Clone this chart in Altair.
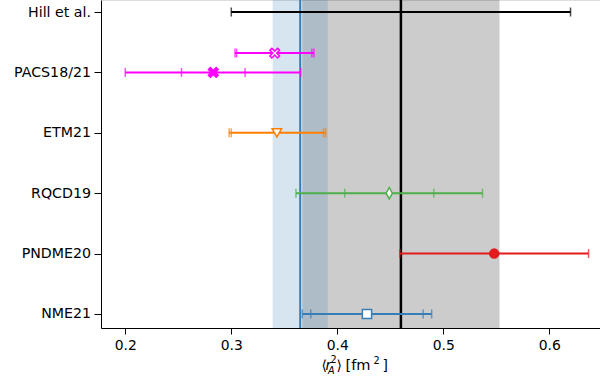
import altair as alt
import pandas as pd

# ---- data ----
row_labels = ["NME21", "PNDME20", "RQCD19", "ETM21", "PACS18/21", "Hill et al."]
row_pos = [0, 1, 2, 3, 4, 5]

names = ["NME21", "PNDME20", "RQCD19", "ETM21", "PACS21", "PACS18", "Hill et al."]
ypos = [0, 1, 2, 3, 4, 4.32, 5]
center = [0.428, 0.548, 0.449, 0.343, 0.283, 0.341, 0.46]
stat_lo = [0.375, None, 0.407, 0.300, 0.253, 0.305, None]
stat_hi = [0.481, None, 0.491, 0.387, 0.313, 0.376, None]
tot_lo = [0.367, 0.459, 0.361, 0.298, 0.200, 0.3035, 0.300]
tot_hi = [0.489, 0.637, 0.537, 0.389, 0.3655, 0.378, 0.620]
colors = ["#377eb8", "#e41a1c", "#4daf4a", "#ff7f00", "#ff00ff", "#ff00ff", "#000000"]

# bands: (lo, center, hi)
blue_band = [0.339, 0.365, 0.391]
gray_band = [0.367, 0.46, 0.553]

XSHAPE = ("M-1,-0.6L-0.6,-1L0,-0.4L0.6,-1L1,-0.6L0.4,0L1,0.6L0.6,1L0,0.4L-0.6,1L-1,0.6L-0.4,0Z")
DIAMOND = "M0,-1L0.55,0L0,1L-0.55,0Z"

marker_shape = ["square", "circle", DIAMOND, "triangle-down", XSHAPE, XSHAPE, None]
marker_fill = ["white", "#e41a1c", "white", "white", "#ff00ff", "white", None]
marker_size = [85, 80, 130, 90, 95, 95, None]

df = pd.DataFrame({
    "name": names, "y": ypos, "c": center, "slo": stat_lo, "shi": stat_hi,
    "tlo": tot_lo, "thi": tot_hi, "color": colors,
})
mdf = pd.DataFrame({
    "name": names, "y": ypos, "c": center, "color": colors,
    "shape": marker_shape, "fill": marker_fill, "size": marker_size,
}).dropna()

bands = pd.DataFrame({
    "lo": [gray_band[0], blue_band[0]], "hi": [gray_band[2], blue_band[2]],
    "mid": [gray_band[1], blue_band[1]], "color": ["#000000", "#377eb8"],
})

W, H = 499, 328
FONT = "DejaVu Sans"
FS = 13.9

xs = alt.Scale(domain=[0.1771, 0.6478], nice=False, zero=False)
ys = alt.Scale(domain=[-0.232, 5.199], nice=False, zero=False)

label_expr = "{" + ",".join(f"'{p}':'{l}'" for p, l in zip(row_pos, row_labels)) + "}[datum.value]"

xax = alt.Axis(values=[0.2, 0.3, 0.4, 0.5, 0.6], format=".1f", title=None, grid=False,
               tickSize=6, labelPadding=4, labelFontSize=FS, labelFont=FONT,
               labelColor="black", domainColor="black", tickColor="black",
               domainWidth=1, tickWidth=1)
yax = alt.Axis(values=row_pos, labelExpr=label_expr, title=None, grid=False,
               tickSize=7, labelPadding=3.5, labelFontSize=14.2, labelFont=FONT,
               labelColor="black", domainColor="black", tickColor="black",
               domainWidth=1, tickWidth=1)

band_layer = alt.Chart(bands).mark_rect(opacity=0.2).encode(
    x=alt.X("lo:Q", scale=xs, axis=xax), x2="hi:Q",
    color=alt.Color("color:N", scale=None),
)
vline = alt.Chart(bands).mark_rule().encode(
    x=alt.X("mid:Q", scale=xs),
    color=alt.Color("color:N", scale=None),
    strokeWidth=alt.condition("datum.color == '#000000'", alt.value(2.5), alt.value(2)),
)

bars = alt.Chart(df).mark_rule(strokeWidth=2).encode(
    x=alt.X("tlo:Q", scale=xs), x2="thi:Q",
    y=alt.Y("y:Q", scale=ys, axis=yax),
    color=alt.Color("color:N", scale=None),
)
cap_lo = alt.Chart(df).mark_tick(orient="vertical", size=9, thickness=1.5).encode(
    x=alt.X("tlo:Q", scale=xs), y=alt.Y("y:Q", scale=ys), color=alt.Color("color:N", scale=None))
cap_hi = alt.Chart(df).mark_tick(orient="vertical", size=9, thickness=1.5).encode(
    x=alt.X("thi:Q", scale=xs), y=alt.Y("y:Q", scale=ys), color=alt.Color("color:N", scale=None))
scap_lo = alt.Chart(df).transform_filter("isValid(datum.slo)").mark_tick(
    orient="vertical", size=9, thickness=1.5).encode(
    x=alt.X("slo:Q", scale=xs), y=alt.Y("y:Q", scale=ys), color=alt.Color("color:N", scale=None))
scap_hi = alt.Chart(df).transform_filter("isValid(datum.shi)").mark_tick(
    orient="vertical", size=9, thickness=1.5).encode(
    x=alt.X("shi:Q", scale=xs), y=alt.Y("y:Q", scale=ys), color=alt.Color("color:N", scale=None))

markers = alt.Chart(mdf).mark_point(filled=False, strokeWidth=1.5, opacity=1).encode(
    x=alt.X("c:Q", scale=xs), y=alt.Y("y:Q", scale=ys),
    shape=alt.Shape("shape:N", scale=None),
    fill=alt.Fill("fill:N", scale=None),
    stroke=alt.Stroke("color:N", scale=None),
    size=alt.Size("size:Q", scale=None),
)

# x-axis title with mathtext-like sub/superscripts
one = pd.DataFrame({"k": [0]})
def txt(s, x, y, size=FS, style="normal"):
    return alt.Chart(one).mark_text(text=s, font=FONT, fontSize=size, fontStyle=style,
                                    align="left", baseline="alphabetic", color="black").encode(
        x=alt.value(x), y=alt.value(y))

SUB = 9.7
title_layers = [
    txt("⟨", 220.5, 370),
    txt("r", 224.5, 370, style="italic"),
    txt("2", 229.5, 363, size=SUB),
    txt("A", 227, 374, size=SUB, style="italic"),
    txt("⟩", 235.5, 370),
    txt("[fm", 244.5, 370, size=14.6),
    txt("2", 272.5, 363.5, size=SUB),
    txt("]", 281.5, 370),
]

chart = alt.layer(band_layer, vline, bars, cap_lo, cap_hi, scap_lo, scap_hi, markers,
                  *title_layers).properties(
    width=W, height=H,
    autosize=alt.AutoSizeParams(type="none"),
    padding={"left": 101, "top": 0, "right": 0, "bottom": 57},
).configure_view(stroke=None).configure(background="white")

chart.save("out.html", embed_options={"renderer": "svg", "actions": False})
